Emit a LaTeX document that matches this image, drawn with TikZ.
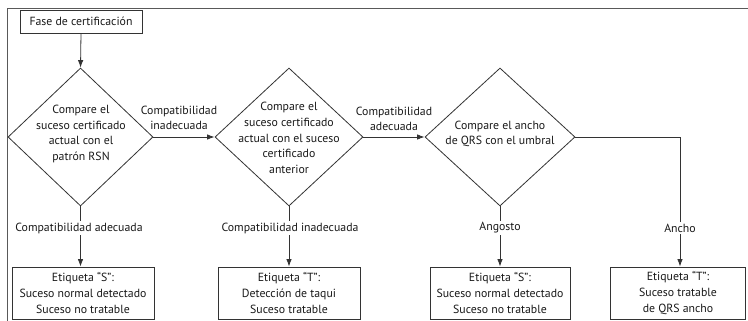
\documentclass[tikz,border=0pt]{standalone}
\usepackage{fontspec}
\setmainfont{PT Sans}
\usetikzlibrary{shapes.geometric,arrows.meta}
\begin{document}
\begin{tikzpicture}[x=1pt,y=-1pt,
  txt/.style={font=\fontsize{11.8}{15.6}\selectfont,text=black!90,align=center,inner sep=0pt},
  dmd/.style={draw=black!80,line width=0.8pt,diamond,minimum width=#1,minimum height=138pt,inner sep=0pt},
  lbox/.style={draw=black!80,line width=0.9pt,rectangle,minimum width=#1,minimum height=52pt,inner sep=0pt,
    font=\fontsize{11.8}{15.6}\selectfont,align=center,text=black!90},
  conn/.style={draw=black!80,line width=0.8pt},
  arr/.style={conn,-{Latex[length=7.5pt,width=5.5pt]}},
  lab/.style={font=\fontsize{11.8}{15}\selectfont,align=center,fill=white,inner sep=1.5pt,text=black!90}
]
\useasboundingbox (0,0) rectangle (748,321);
\fill[white] (0,0) rectangle (748,321);
% frame
\coordinate (fr1) at (748,8);
\coordinate (fr2) at (7,8);
\coordinate (fr3) at (7,321);
\draw[black!65,line width=0.9pt] (fr1) -- (fr2) -- (fr3);

\node[draw=black!80,line width=0.9pt,minimum width=122pt,minimum height=23pt,inner sep=0pt,
  font=\fontsize{11.8}{13}\selectfont,text=black!90] (fase) at (81,21.5) {Fase de certificación};

\node[dmd=145pt] (d1) at (80.5,137) {};
\node[dmd=148pt] (d2) at (289,137) {};
\node[dmd=150pt] (d3) at (500,137) {};

\node[txt] (t1) at (81,134) {Compare el\\suceso certificado\\actual con el\\patrón RSN};
\node[txt] (t2) at (289,138) {Compare el\\suceso certificado\\actual con el suceso\\certificado\\anterior};
\node[txt] (t3) at (500,134) {Compare el ancho\\de QRS con el umbral};

\node[lbox=142pt] (b1) at (83,293) {Etiqueta “S”:\\Suceso normal detectado\\Suceso no tratable};
\node[lbox=142pt] (b2) at (289,293) {Etiqueta “T”:\\Detección de taqui\\Suceso tratable};
\node[lbox=140pt] (b3) at (500,293) {Etiqueta “S”:\\Suceso normal detectado\\Suceso no tratable};
\node[lbox=135pt] (b4) at (678,293) {Etiqueta “T”:\\Suceso tratable\\de QRS ancho};

\draw[arr] (fase.south) -- (d1.north);
\draw[arr] (d1.east) -- (d2.west);
\draw[arr] (d2.east) -- (d3.west);
\draw[arr] (d1.south) -- (d1.south |- b1.north);
\draw[arr] (d2.south) -- (b2.north);
\draw[arr] (d3.south) -- (b3.north);
\coordinate (c4) at (680,137);
\draw[arr] (d3.east) -- (c4) -- (c4 |- b4.north);

\node[lab,fill=none] (l1) at (179,117.5) {Compatibilidad\\inadecuada};
\node[lab,fill=none] (l2) at (394,119) {Compatibilidad\\adecuada};
\node[lab] (l3) at (79,228) {Compatibilidad adecuada};
\node[lab] (l4) at (290,228) {Compatibilidad inadecuada};
\node[lab] (l5) at (500,228) {Angosto};
\node[lab] (l6) at (680,228) {Ancho};
\end{tikzpicture}
\end{document}
